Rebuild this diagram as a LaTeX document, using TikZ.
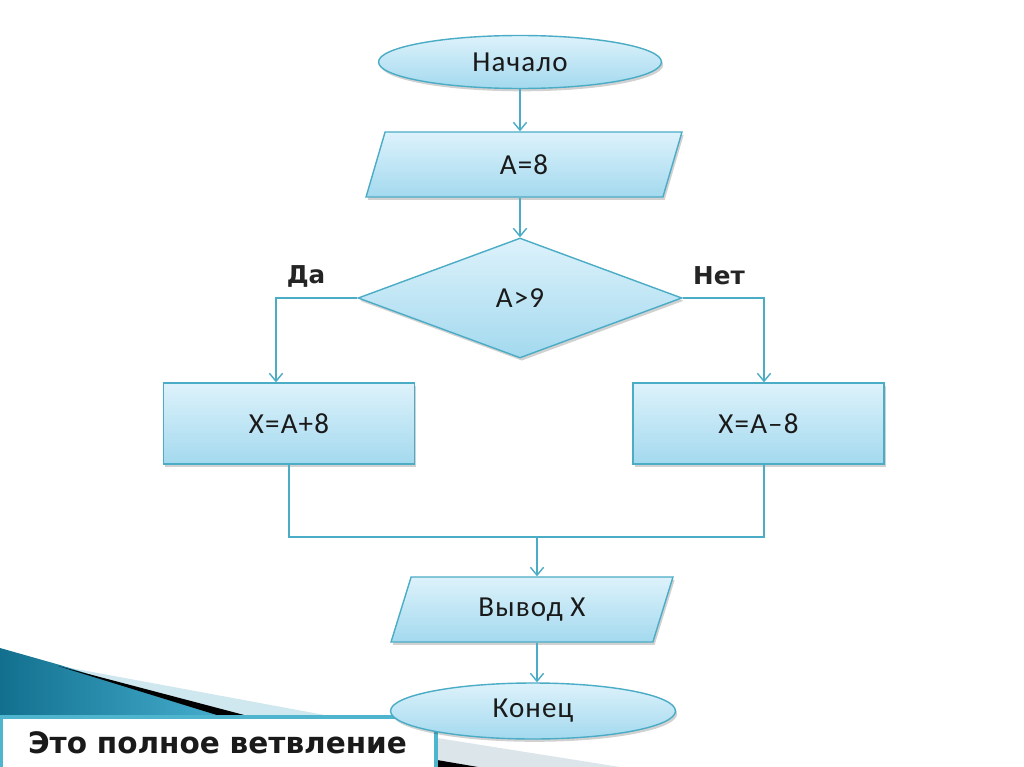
\documentclass[tikz,border=0pt]{standalone}
\usepackage{fontspec}
\newfontfamily\flowfont[LetterSpace=4]{Carlito}
\newfontfamily\labelfont{DejaVu Sans}
\usetikzlibrary{shapes.geometric,arrows.meta,shadows}
\definecolor{edgeblue}{HTML}{4BACC6}
\definecolor{filltop}{HTML}{DDF2FB}
\definecolor{fillbot}{HTML}{A3D9EE}
\definecolor{tealdark}{HTML}{12708E}
\definecolor{teallight}{HTML}{45ADCE}
\definecolor{wedgeblue}{HTML}{CFE7EF}
\definecolor{wedgegray}{HTML}{DCE6EA}
\definecolor{titleframe}{HTML}{4FB5CF}
\definecolor{textdark}{HTML}{1A1A1A}
\tikzset{
  shapebox/.style={draw=edgeblue, line width=0.8pt, top color=filltop, bottom color=fillbot,
    drop shadow={shadow xshift=1pt, shadow yshift=-1.6pt, opacity=0.18, fill=black},
    font=\flowfont\fontsize{16.5}{19}\selectfont, text=textdark, inner sep=0pt},
  termbox/.style={shapebox, ellipse},
  iobox/.style={shapebox, trapezium, trapezium stretches body=true},
  procbox/.style={shapebox, rectangle},
  decbox/.style={shapebox, diamond},
  conn/.style={draw=edgeblue, line width=0.8pt},
  arr/.style={conn, -{Straight Barb[length=4.5pt,width=7.5pt]}},
  branchlabel/.style={font=\labelfont\bfseries\fontsize{14}{16}\selectfont, text=textdark!90!gray, inner sep=0pt}
}
\begin{document}
\begin{tikzpicture}[x=0.02cm,y=-0.02cm]
\useasboundingbox (0,0) rectangle (1024,767);
\fill[white] (0,0) rectangle (1024,767);

% bottom-left decoration
\fill[wedgeblue] (60,666) -- (330,716) -- (60,716) -- cycle;
\shade[left color=tealdark, right color=teallight] (0,648) -- (60,665) -- (220,716) -- (0,716) -- cycle;
\fill[black] (58,666) -- (248,716) -- (220,716) -- cycle;
\fill[wedgegray] (437,738) -- (620,767) -- (437,767) -- cycle;
\fill[black] (437,760) -- (478,767) -- (437,767) -- cycle;

% title box
\node[draw=titleframe, line width=2.2pt, fill=white, minimum width=8.7cm, minimum height=1.04cm,
      text width=7.62cm, inner xsep=0.54cm, align=left, inner ysep=0pt,
      font=\labelfont\bfseries\fontsize{16.8}{18}\selectfont, text=textdark]
  (title) at (218.5,743) {Это полное ветвление};

% flowchart
\node[termbox, minimum width=5.66cm, minimum height=1.06cm] (start) at (520,62) {Начало};
\node[iobox, trapezium left angle=46.4, trapezium right angle=133.6,
      minimum width=6.32cm, minimum height=1.3cm] (in1) at (524,164.5) {A=8};
\node[decbox, minimum width=6.48cm, minimum height=2.4cm] (dec) at (520,298) {A>9};
\node[procbox, minimum width=5.02cm, minimum height=1.62cm] (yes) at (289,423.5) {X=A+8};
\node[procbox, minimum width=5.02cm, minimum height=1.62cm] (no) at (758.5,423.5) {X=A–8};
\node[iobox, trapezium left angle=49.3, trapezium right angle=130.7,
      minimum width=5.64cm, minimum height=1.3cm] (out) at (532,609.5) {Вывод X};
\node[termbox, minimum width=5.7cm, minimum height=1.12cm] (end) at (533,711) {Конец};

\node[branchlabel] (lyes) at (306,276) {Да};
\node[branchlabel] (lno) at (719,276) {Нет};

\coordinate (merge) at (537,537);

\draw[arr] (start.south) -- (start.south |- in1.north);
\draw[arr] (in1.south -| dec.north) -- (dec.north);
\draw[arr] (dec.west) -| ([xshift=-0.26cm]yes.north);
\draw[arr] (dec.east) -| ([xshift=0.11cm]no.north);
\draw[conn] (yes.south) |- (merge) -| ([xshift=0.11cm]no.south);
\draw[arr] (merge) -- (merge |- out.north);
\draw[arr] (merge |- out.south) -- (merge |- end.north);
\end{tikzpicture}
\end{document}
